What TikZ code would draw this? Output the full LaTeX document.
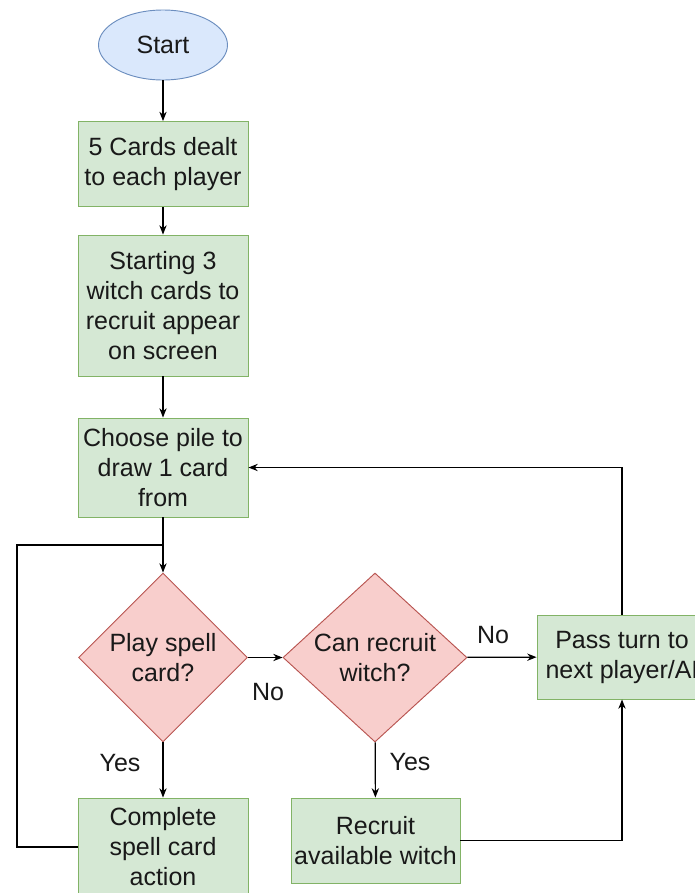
\documentclass[tikz,border=0pt]{standalone}
\usepackage{fontspec}
\setmainfont{Liberation Sans}
\usetikzlibrary{shapes.geometric,positioning,calc,arrows.meta}

\definecolor{startfill}{HTML}{DAE8FC}
\definecolor{startline}{HTML}{6C8EBF}
\definecolor{stepfill}{HTML}{D5E8D4}
\definecolor{stepline}{HTML}{82B366}
\definecolor{askfill}{HTML}{F8CECC}
\definecolor{askline}{HTML}{B85450}

\begin{document}
\begin{tikzpicture}[
    >={Stealth[length=7pt,width=5.5pt]},
    x=0.75pt, y=-0.75pt,
    every node/.style={font=\fontsize{18.75}{22.5}\selectfont, text=black!90},
    startnode/.style={ellipse, draw=startline, fill=startfill, line width=0.7pt,
                      minimum width=96.75pt, minimum height=52.5pt, inner sep=0pt},
    stepbox/.style={rectangle, draw=stepline, fill=stepfill, line width=0.7pt,
                    align=center, minimum width=127.5pt, inner sep=0pt},
    asknode/.style={diamond, draw=askline, fill=askfill, line width=0.7pt,
                    align=center, inner sep=-3pt},
    flow/.style={->, line width=0.9pt}
]

% fixed page size
\useasboundingbox (0,0) rectangle (694,893);

%======================
% Main column
%======================

\node[startnode] (start) at (163,45) {Start};

\node[stepbox, minimum height=63.75pt] (deal) at (163,164)
    {5 Cards dealt\\to each player};
\node[stepbox, minimum height=105.75pt] (witches) at (163,305.5)
    {Starting 3\\witch cards to\\recruit appear\\on screen};
\node[stepbox, minimum height=74.25pt] (choose) at (163,467.5)
    {Choose pile to\\draw 1 card\\from};

%======================
% Decisions
%======================

\node[asknode, minimum width=126.75pt, minimum height=126.75pt] (spell) at (163,657.5)
    {Play spell\\card?};
\node[asknode, minimum width=138pt, minimum height=126.75pt] (canrec) at (375,657.5)
    {Can recruit\\witch?};

%======================
% Actions
%======================

\node[stepbox, minimum height=63pt] (pass) at (622,657)
    {Pass turn to\\next player/AI};
\node[stepbox, minimum height=73.5pt] (complete) at (163,847)
    {Complete\\spell card\\action};
\node[stepbox, minimum width=126.75pt, minimum height=63.75pt] (recruit) at (375.5,840.5)
    {Recruit\\available witch};

% corner of the loop back
\coordinate (loop) at (17,545);

%======================
% Arrows
%======================

\draw[flow] (start) -- (deal);
\draw[flow] (deal) -- (witches);
\draw[flow] (witches) -- (choose);
\draw[flow] (choose) -- (spell);

\draw[flow] (spell) -- (canrec);
\draw[flow] (spell) -- (complete);
\draw[flow] (canrec) -- (pass);
\draw[flow] (canrec) -- (recruit);

\draw[flow] (recruit.east) -| (pass.south);
\draw[flow] (pass.north) |- (choose.east);

% back to the trunk
\draw[line width=0.9pt] (complete.west) -| (loop) -- (loop -| choose.south);

%======================
% Edge labels
%======================

\node (nospell) at (268,692) {No};
\node (norec) at (493,635) {No};
\node (yesspell) at (120,763) {Yes};
\node (yesrec) at (410,762) {Yes};

\end{tikzpicture}
\end{document}
